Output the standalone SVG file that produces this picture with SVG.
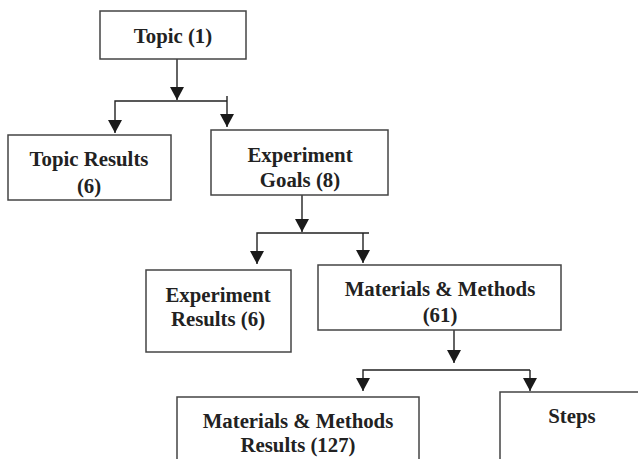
<svg xmlns="http://www.w3.org/2000/svg" width="638" height="459" viewBox="0 0 638 459">
<defs>
<style>
.box{fill:#fff;stroke:#444;stroke-width:1.5}
.t{font-family:"Liberation Serif","Times New Roman",serif;font-weight:bold;font-size:20.8px;fill:#222;text-anchor:middle}
.c{fill:none;stroke:#222;stroke-width:1.4}
</style>
<marker id="ah" viewBox="0 0 13 14" refX="13" refY="7" markerWidth="13" markerHeight="14" markerUnits="userSpaceOnUse" orient="auto">
<path d="M0,0 L13,7 L0,14 Z" fill="#1a1a1a"/>
</marker>
</defs>
<rect width="638" height="459" fill="#fff"/>
<g id="connectors">
<line class="c" x1="177" y1="59" x2="177" y2="100" marker-end="url(#ah)"/>
<polyline class="c" points="227,101 115,101 115,133" marker-end="url(#ah)"/>
<line class="c" x1="227" y1="96" x2="227" y2="127" marker-end="url(#ah)"/>
<line class="c" x1="302" y1="195" x2="302" y2="232" marker-end="url(#ah)"/>
<polyline class="c" points="369,233 257,233 257,264" marker-end="url(#ah)"/>
<line class="c" x1="363" y1="233" x2="363" y2="263" marker-end="url(#ah)"/>
<line class="c" x1="454" y1="330" x2="454" y2="363" marker-end="url(#ah)"/>
<polyline class="c" points="530,370 363,370 363,391" marker-end="url(#ah)"/>
<line class="c" x1="530" y1="370" x2="530" y2="391" marker-end="url(#ah)"/>
</g>
<g id="topic">
<rect class="box" x="100" y="11" width="146" height="48"/>
<text class="t" x="173" y="43">Topic (1)</text>
</g>
<g id="topic-results">
<rect class="box" x="8" y="135" width="163" height="65"/>
<text class="t" x="89" y="166">Topic Results</text>
<text class="t" x="89" y="193">(6)</text>
</g>
<g id="experiment-goals">
<rect class="box" x="211" y="130" width="177" height="65"/>
<text class="t" x="300" y="162">Experiment</text>
<text class="t" x="300" y="187">Goals (8)</text>
</g>
<g id="experiment-results">
<rect class="box" x="146" y="270" width="145" height="82"/>
<text class="t" x="218" y="302">Experiment</text>
<text class="t" x="218" y="326">Results (6)</text>
</g>
<g id="materials-methods">
<rect class="box" x="318" y="265" width="243" height="65"/>
<text class="t" x="440" y="296">Materials &amp; Methods</text>
<text class="t" x="440" y="322">(61)</text>
</g>
<g id="mm-results">
<rect class="box" x="177" y="397" width="242" height="80"/>
<text class="t" x="298" y="428">Materials &amp; Methods</text>
<text class="t" x="298" y="452">Results (127)</text>
</g>
<g id="steps">
<rect class="box" x="500" y="392" width="160" height="85"/>
<text class="t" x="572" y="423">Steps</text>
</g>
</svg>
